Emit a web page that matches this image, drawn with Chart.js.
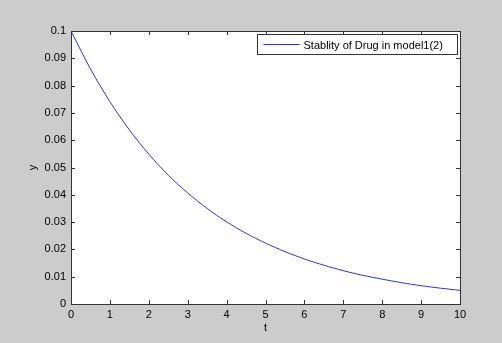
<!DOCTYPE html>
<html>
<head>
<meta charset="utf-8">
<script src="https://cdn.jsdelivr.net/npm/chart.js@4"></script>
<style>
  html, body { margin: 0; padding: 0; background: #cccccc; }
  canvas { display: block; }
</style>
</head>
<body>
<canvas id="chart" width="502" height="343"></canvas>
<script>
// values
const tValues = [0, 0.5, 1, 1.5, 2, 2.5, 3, 3.5, 4, 4.5, 5, 5.5, 6, 6.5, 7, 7.5, 8, 8.5, 9, 9.5, 10];
const yValues = [0.1, 0.0861, 0.0741, 0.0638, 0.0549, 0.0472, 0.0407, 0.035, 0.0301, 0.0259,
  0.0223, 0.0192, 0.0165, 0.0142, 0.0122, 0.0105, 0.0091, 0.0078, 0.0067, 0.0058, 0.005];
const seriesLabel = 'Stablity of Drug in model1(2)';
const xTicks = [0, 1, 2, 3, 4, 5, 6, 7, 8, 9, 10];
const yTicks = [0, 0.01, 0.02, 0.03, 0.04, 0.05, 0.06, 0.07, 0.08, 0.09, 0.1];

const axisColor = '#333333';
const lineColor = '#3434bc';
const font = { family: 'Liberation Sans, Arial, sans-serif', size: 11 };

const points = tValues.map((t, i) => ({ x: t, y: yValues[i] }));

// matlab style box: white area, frame, inward ticks on all sides, boxed legend
const matlabBox = {
  id: 'matlabBox',
  beforeDatasetsDraw(chart) {
    const { ctx, chartArea: a } = chart;
    ctx.save();
    ctx.fillStyle = '#ffffff';
    ctx.fillRect(a.left, a.top, a.right - a.left, a.bottom - a.top);
    ctx.restore();
  },
  afterDatasetsDraw(chart) {
    const { ctx, chartArea: a, scales } = chart;
    ctx.save();
    ctx.strokeStyle = axisColor;
    ctx.lineWidth = 1;
    ctx.beginPath();
    xTicks.forEach(v => {
      const px = Math.round(scales.x.getPixelForValue(v)) + 0.5;
      ctx.moveTo(px, a.bottom); ctx.lineTo(px, a.bottom - 4);
      ctx.moveTo(px, a.top); ctx.lineTo(px, a.top + 4);
    });
    yTicks.forEach(v => {
      const py = Math.round(scales.y.getPixelForValue(v)) + 0.5;
      ctx.moveTo(a.left, py); ctx.lineTo(a.left + 4, py);
      ctx.moveTo(a.right, py); ctx.lineTo(a.right - 4, py);
    });
    ctx.stroke();
    ctx.strokeRect(Math.round(a.left) + 0.5, Math.round(a.top) + 0.5,
      Math.round(a.right - a.left), Math.round(a.bottom - a.top));

    // legend
    const bx = 257.5, by = 34.5, bw = 200, bh = 20;
    ctx.fillStyle = '#ffffff';
    ctx.fillRect(bx, by, bw, bh);
    ctx.strokeRect(bx, by, bw, bh);
    ctx.strokeStyle = lineColor;
    ctx.beginPath();
    ctx.moveTo(bx + 6, by + bh / 2); ctx.lineTo(bx + 42, by + bh / 2);
    ctx.stroke();
    ctx.fillStyle = '#000000';
    ctx.font = font.size + 'px ' + font.family;
    ctx.textBaseline = 'middle';
    ctx.fillText(seriesLabel, bx + 46, by + bh / 2 + 1);
    ctx.restore();
  }
};

new Chart(document.getElementById('chart'), {
  type: 'scatter',
  data: {
    datasets: [{
      label: seriesLabel,
      data: points,
      showLine: true,
      borderColor: lineColor,
      borderWidth: 1,
      pointRadius: 0,
      tension: 0.3
    }]
  },
  options: {
    responsive: false,
    animation: false,
    layout: { padding: { left: 0, top: 31, right: 42, bottom: 8 } },
    plugins: { legend: { display: false }, tooltip: { enabled: false } },
    scales: {
      x: {
        type: 'linear',
        min: 0, max: 10,
        afterBuildTicks: s => { s.ticks = xTicks.map(v => ({ value: v })); },
        afterFit: s => { s.height = 31; },
        grid: { display: false, drawTicks: false, tickLength: 0 },
        border: { display: false },
        ticks: { color: '#000', font, padding: 4, maxRotation: 0 },
        title: { display: true, text: 't', color: '#000', font, padding: { top: 0, bottom: 0 } }
      },
      y: {
        type: 'linear',
        min: 0, max: 0.1,
        afterBuildTicks: s => { s.ticks = yTicks.map(v => ({ value: v })); },
        afterFit: s => { s.width = 71; },
        grid: { display: false, drawTicks: false, tickLength: 0 },
        border: { display: false },
        ticks: {
          color: '#000', font, padding: 5,
          callback: v => String(parseFloat(v.toFixed(2)))
        },
        title: { display: true, text: 'y', color: '#000', font, padding: { top: 26, bottom: 0 } }
      }
    }
  },
  plugins: [matlabBox]
});
</script>
</body>
</html>
